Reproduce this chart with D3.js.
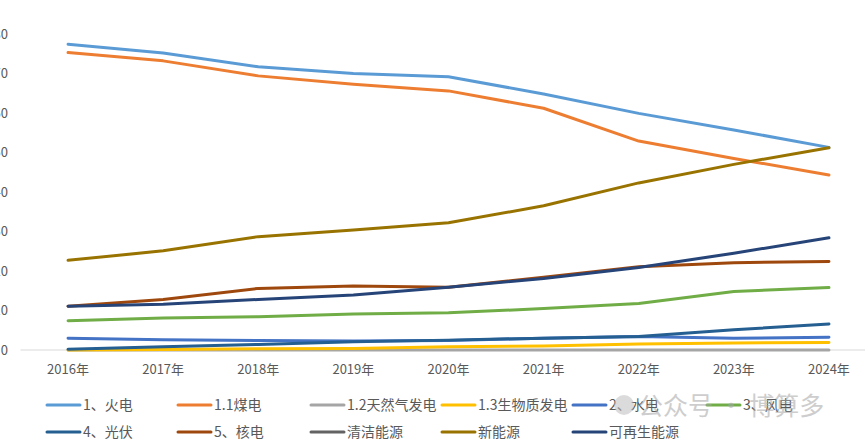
<!DOCTYPE html>
<html>
<head>
<meta charset="utf-8" />
<script src="https://d3js.org/d3.v7.min.js"></script>
<style>
  body { margin: 0; background: #fff; }
  svg { display: block; font-family: "Noto Sans CJK SC", "Noto Sans", sans-serif; }
</style>
</head>
<body>
<svg id="chart" width="865" height="442"></svg>
<script>
// categories
const years = ["2016年", "2017年", "2018年", "2019年", "2020年", "2021年", "2022年", "2023年", "2024年"];
const yTicks = [0, 10, 20, 30, 40, 50, 60, 70, 80];

// series values
const thermal   = [77.4, 75.2, 71.7, 70.0, 69.2, 64.8, 59.9, 55.7, 51.3];
const coal      = [75.3, 73.2, 69.4, 67.3, 65.6, 61.2, 52.9, 48.5, 44.3];
const gas       = [0, 0, 0, 0, 0, 0, 0, 0, 0];
const biomass   = [0, 0.1, 0.3, 0.4, 0.8, 1.0, 1.5, 1.8, 1.9];
const hydro     = [3.0, 2.6, 2.4, 2.3, 2.4, 3.0, 3.4, 3.0, 3.2];
const wind      = [7.4, 8.1, 8.4, 9.1, 9.4, 10.5, 11.8, 14.8, 15.8];
const solar     = [0.2, 0.8, 1.4, 2.1, 2.5, 3.0, 3.4, 5.1, 6.6];
const nuclear   = [11.1, 12.8, 15.6, 16.2, 15.9, 18.4, 21.1, 22.1, 22.4];
const clean     = [null, null, null, null, null, null, null, null, null];
const newEnergy = [22.7, 25.1, 28.7, 30.4, 32.2, 36.5, 42.3, 47.0, 51.2];
const renewable = [11.1, 11.6, 12.8, 13.9, 15.9, 18.1, 20.9, 24.5, 28.4];

const seriesNames = ["1、火电", "1.1煤电", "1.2天然气发电", "1.3生物质发电", "2、水电", "3、风电",
                     "4、光伏", "5、核电", "清洁能源", "新能源", "可再生能源"];
const seriesValues = [thermal, coal, gas, biomass, hydro, wind, solar, nuclear, clean, newEnergy, renewable];
const seriesColors = ["#5B9BD5", "#ED7D31", "#A5A5A5", "#FFC000", "#4472C4", "#70AD47",
                      "#255E91", "#9E480E", "#636363", "#997300", "#264478"];

const svg = d3.select("#chart");

// band scale for the axis extent, point centres for the lines
const xBand = d3.scaleBand().domain(years).range([20.5, 876.5]);
const x = d => xBand(d) + xBand.bandwidth() / 2;
const y = d3.scaleLinear().domain([0, 80]).range([350, 34]);

// y labels (left part is cut off in the original)
svg.append("g")
  .selectAll("text")
  .data(yTicks)
  .enter()
  .append("text")
  .attr("x", 8)
  .attr("y", d => y(d) + 4.5)
  .attr("text-anchor", "end")
  .attr("font-size", 13)
  .attr("fill", "#595959")
  .text(d => d);

// x axis line
svg.append("line")
  .attr("x1", xBand.range()[0])
  .attr("x2", xBand.range()[1])
  .attr("y1", y(0))
  .attr("y2", y(0))
  .attr("stroke", "#D9D9D9")
  .attr("stroke-width", 1);

// x labels
svg.append("g")
  .selectAll("text")
  .data(years)
  .enter()
  .append("text")
  .attr("x", d => x(d))
  .attr("y", 374)
  .attr("text-anchor", "middle")
  .attr("font-size", 13)
  .attr("fill", "#595959")
  .text(d => d);

// lines
const line = d3.line()
  .defined(d => d.v != null)
  .x(d => x(d.year))
  .y(d => y(d.v));

seriesValues.forEach(function (vals, i) {
  const pts = vals.map((v, j) => ({ year: years[j], v: v }));
  svg.append("path")
    .attr("d", line(pts))
    .attr("fill", "none")
    .attr("stroke", seriesColors[i])
    .attr("stroke-width", 3)
    .attr("stroke-linecap", "round")
    .attr("stroke-linejoin", "round");
});

// legend, 6 per row
const legendX = [47, 178, 311, 442, 573, 707];
const legendY = [405, 432];
const legend = svg.append("g")
  .selectAll("g")
  .data(seriesNames)
  .enter()
  .append("g")
  .attr("transform", (d, i) => `translate(${legendX[i % 6]},${legendY[Math.floor(i / 6)]})`);

legend.append("line")
  .attr("x1", 0).attr("x2", 33)
  .attr("y1", 0).attr("y2", 0)
  .attr("stroke", (d, i) => seriesColors[i])
  .attr("stroke-width", 3)
  .attr("stroke-linecap", "round");

legend.append("text")
  .attr("x", 36)
  .attr("y", 5)
  .attr("font-size", 14)
  .attr("fill", "#595959")
  .text(d => d);

// watermark
const wm = svg.append("g").attr("opacity", 0.55);
wm.append("circle").attr("cx", 624).attr("cy", 405).attr("r", 10).attr("fill", "#BFBFBF");
wm.append("text")
  .attr("x", 638)
  .attr("y", 415)
  .attr("font-size", 25)
  .attr("fill", "#A6A6A6")
  .text("公众号 · 博算多");
</script>
</body>
</html>
